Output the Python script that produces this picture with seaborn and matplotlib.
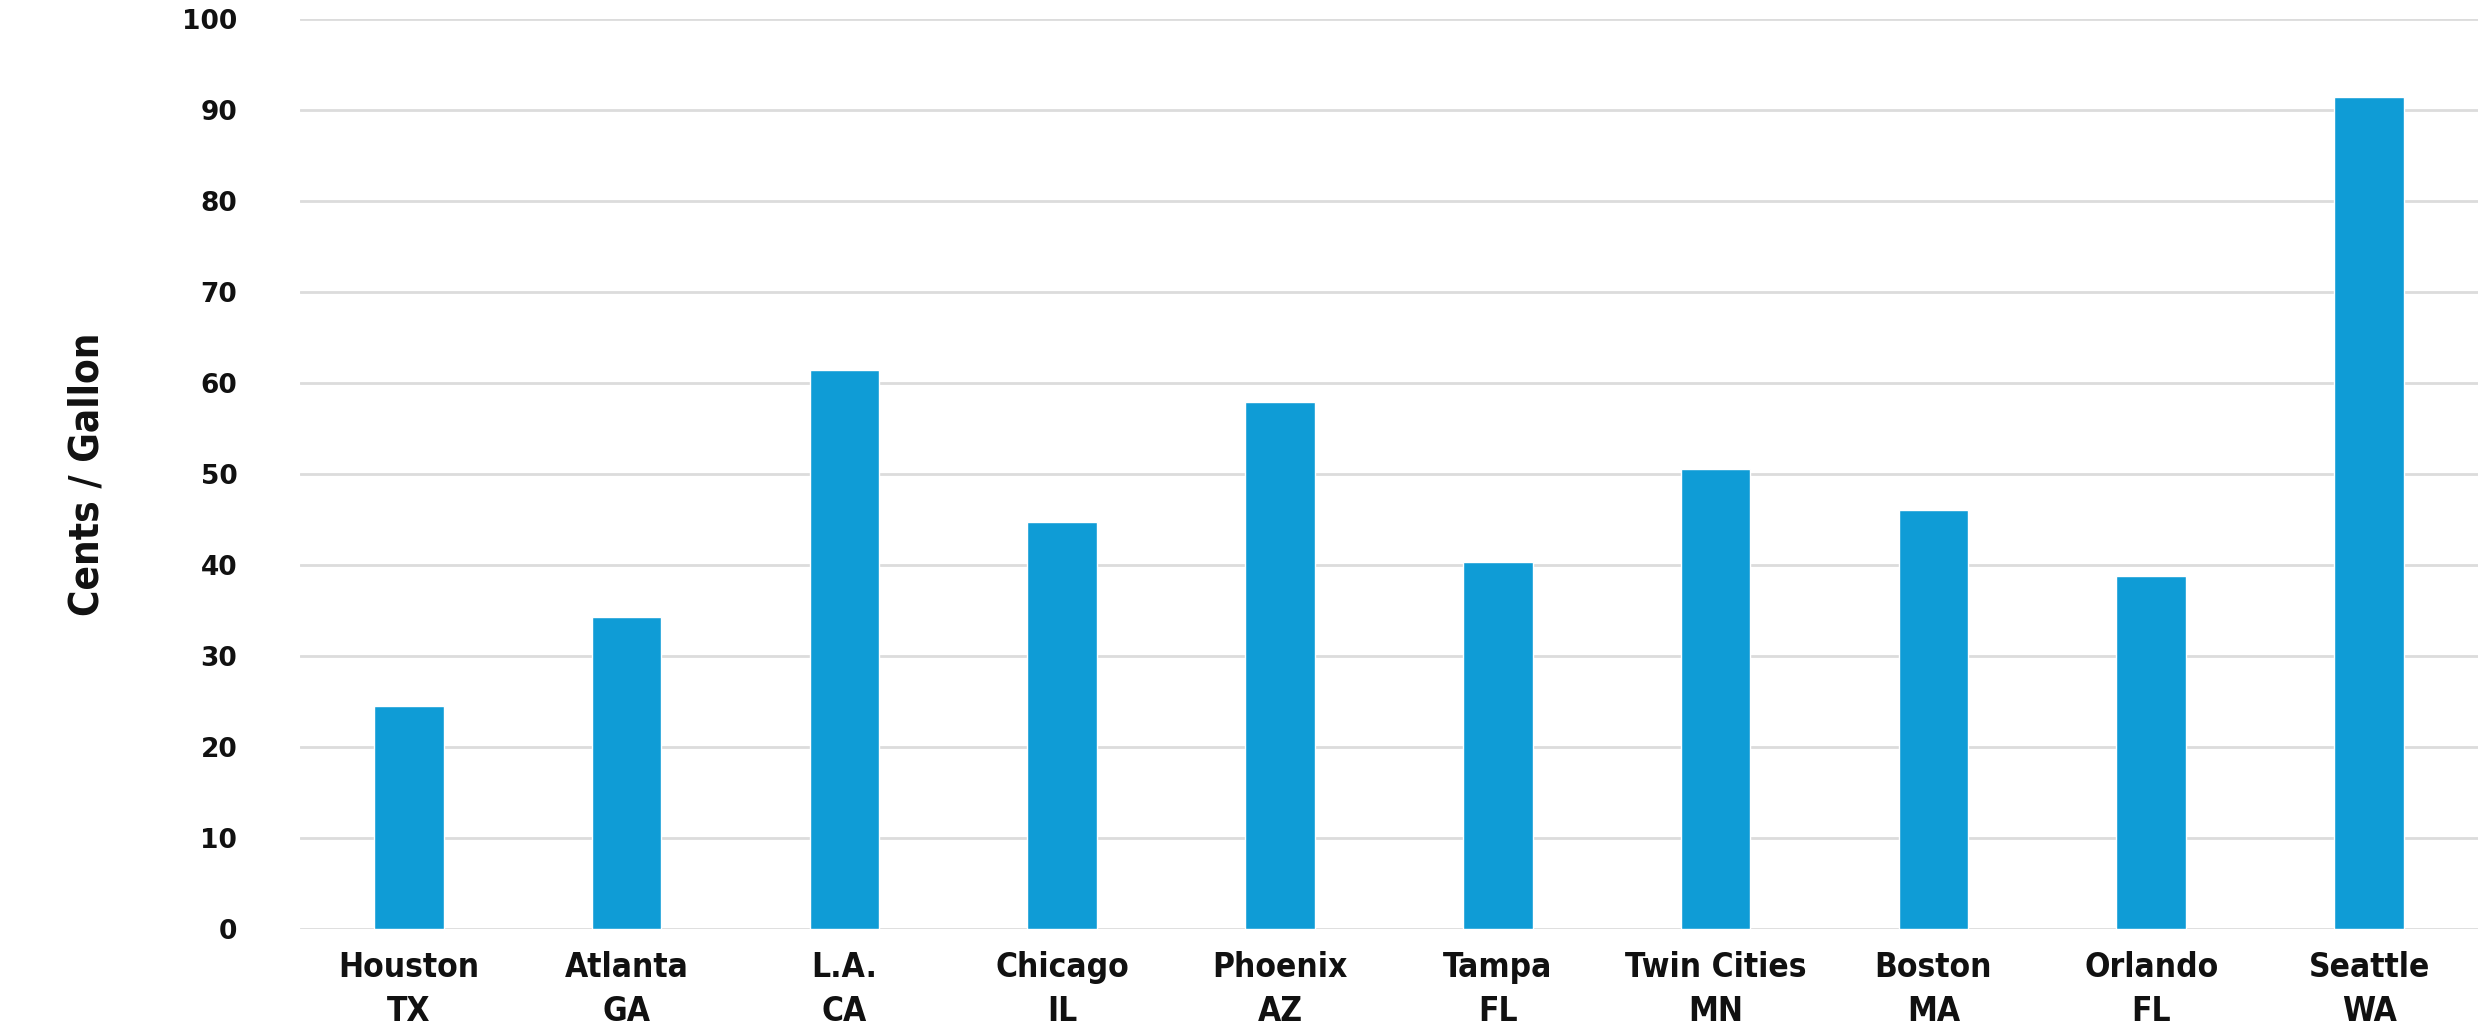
import matplotlib
matplotlib.use("Agg")
import matplotlib.pyplot as plt
import seaborn as sns
import pandas as pd

cities = ["Houston", "Atlanta", "L.A.", "Chicago", "Phoenix",
          "Tampa", "Twin Cities", "Boston", "Orlando", "Seattle"]
states = ["TX", "GA", "CA", "IL", "AZ", "FL", "MN", "MA", "FL", "WA"]
cents_per_gallon = [24.5, 34.3, 61.4, 44.7, 57.9, 40.3, 50.5, 46.0, 38.8, 91.4]
y_ticks = [0, 10, 20, 30, 40, 50, 60, 70, 80, 90, 100]

labels = [f"{c}\n{s}" for c, s in zip(cities, states)]
df = pd.DataFrame({"label": labels, "value": cents_per_gallon})

sns.set_theme(style="white")
plt.rcParams["font.family"] = ["DejaVu Sans"]

fig = plt.figure(figsize=(24.78, 10.25), dpi=100)
ax = fig.add_axes([0.121, 1 - 929 / 1025, 1 - 0.121, (929 - 19) / 1025])

sns.barplot(data=df, x="label", y="value", color="#0f9cd6", saturation=1,
            width=0.32, ax=ax, zorder=3)

ax.set_xlim(-0.5, 9.5)
ax.set_ylim(0, 100)
ax.set_yticks(y_ticks)
ax.yaxis.grid(True, color="#dcdcdc", linewidth=2, zorder=0)
ax.set_axisbelow(True)
for sp in ax.spines.values():
    sp.set_visible(False)

ax.tick_params(axis="both", length=0)
ax.tick_params(axis="y", pad=45)
ax.tick_params(axis="x", pad=16)

for t in ax.get_yticklabels():
    t.set_fontfamily("DejaVu Sans")
    t.set_fontweight("heavy")
    t.set_fontsize(19)
    t.set_color("#111111")

for t in ax.get_xticklabels():
    t.set_fontfamily("DejaVu Sans")
    t.set_fontstretch("condensed")
    t.set_fontweight("bold")
    t.set_fontsize(24)
    t.set_linespacing(1.4)
    t.set_color("#111111")

ax.set_xlabel("")
ax.set_ylabel("")
fig.text(87 / 2478, 1 - 474 / 1025, "Cents / Gallon", rotation=90,
         ha="center", va="center", fontsize=29, fontstretch="condensed",
         fontweight="bold", family="DejaVu Sans", color="#111111")

fig.savefig("out.png", dpi=100, facecolor="white")
